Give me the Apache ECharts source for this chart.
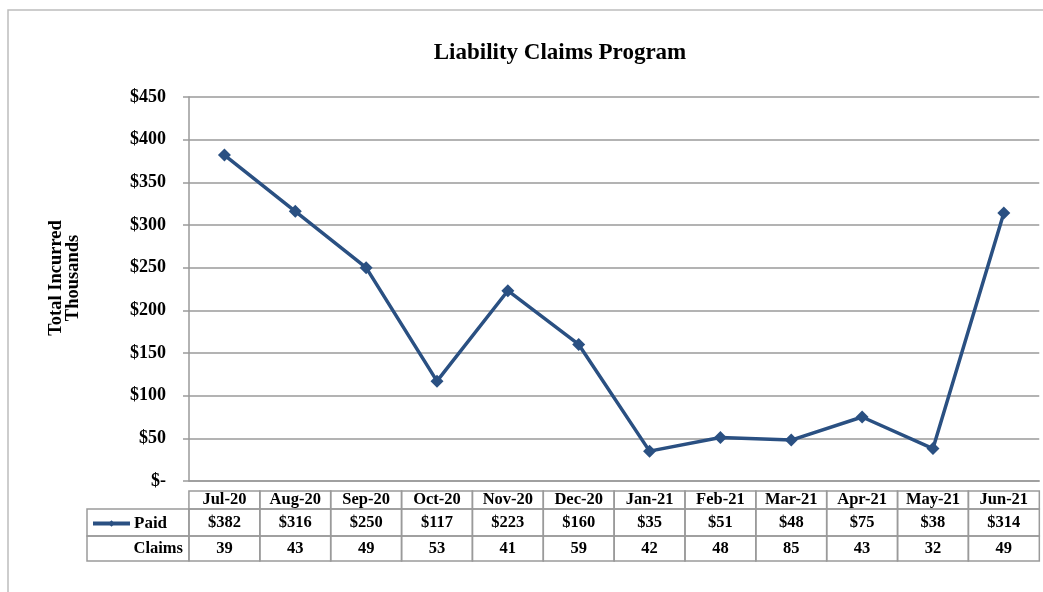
<!DOCTYPE html>
<html>
<head>
<meta charset="utf-8">
<script src="https://cdn.jsdelivr.net/npm/echarts@6/dist/echarts.min.js"></script>
<style>
  html, body { margin: 0; padding: 0; background: #fff; }
  #chart { width: 1043px; height: 592px; }
</style>
</head>
<body>
<div id="chart"></div>
<script>
// Monthly liability claims, FY Jul-20 .. Jun-21
const months = ['Jul-20', 'Aug-20', 'Sep-20', 'Oct-20', 'Nov-20', 'Dec-20',
                'Jan-21', 'Feb-21', 'Mar-21', 'Apr-21', 'May-21', 'Jun-21'];
const paid = [382, 316, 250, 117, 223, 160, 35, 51, 48, 75, 38, 314];   // $ thousands
const claims = [39, 43, 49, 53, 41, 59, 42, 48, 85, 43, 32, 49];
const yTicks = { min: 0, max: 450, step: 50 };

const SERIF = '"Liberation Serif", "Times New Roman", serif';
const LINE = '#2a5082';
const RULE = '#9a9a9a';

const W = 1043;
const gridLeft = 189, gridRight = 2, gridTop = 97, gridBottom = 111; // plot ends at y=481
const cellW = (W - gridLeft - gridRight) / months.length;
const rowH = [18, 27, 25];          // header, Paid, Claims rows of the data table
const rowTop = [491, 509, 536];

// one category axis per table row; each label is a bordered cell
function tableAxis(rowIdx, fmt) {
  return {
    type: 'category',
    data: months,
    gridIndex: 0,
    position: 'bottom',
    offset: rowTop[rowIdx] - 491,
    boundaryGap: true,
    axisLine: { show: false },
    axisTick: { show: false },
    splitLine: { show: false },
    axisLabel: {
      interval: 0,
      margin: 10,
      formatter: fmt,
      color: '#000',
      fontFamily: SERIF,
      fontWeight: 'bold',
      fontSize: 16.5,
      width: cellW,
      height: rowH[rowIdx],
      lineHeight: rowH[rowIdx],
      align: 'center',
      verticalAlign: 'top',
      borderColor: RULE,
      borderWidth: 1.5
    }
  };
}

const chart = echarts.init(document.getElementById('chart'), null, { renderer: 'canvas' });

const option = {
  backgroundColor: '#fff',
  animation: false,
  title: {
    text: 'Liability Claims Program',
    left: 555,
    top: 37,
    textAlign: 'center',
    textStyle: { fontFamily: SERIF, fontWeight: 'bold', fontSize: 23, color: '#000' }
  },
  legend: {
    data: ['Paid'],
    left: 91,
    top: 515,
    padding: 0,
    itemWidth: 37,
    itemHeight: 8,
    itemGap: 4,
    lineStyle: { width: 4 },
    textStyle: { fontFamily: SERIF, fontWeight: 'bold', fontSize: 17, color: '#000', padding: [0, 0, 0, -1] }
  },
  grid: { left: gridLeft, right: gridRight, top: gridTop, bottom: gridBottom, containLabel: false },
  xAxis: [
    Object.assign(tableAxis(0, v => v), {
      axisLine: { show: true, lineStyle: { color: RULE, width: 1.5 } }
    }),
    tableAxis(1, (v, i) => '$' + paid[i]),
    tableAxis(2, (v, i) => String(claims[i]))
  ],
  yAxis: {
    type: 'value',
    min: yTicks.min,
    max: yTicks.max,
    interval: yTicks.step,
    axisLine: { show: true, lineStyle: { color: RULE, width: 1.5 } },
    axisTick: { show: true, inside: false, length: 6, lineStyle: { color: RULE, width: 1.5 } },
    splitLine: { show: true, lineStyle: { color: RULE, width: 1.5 } },
    axisLabel: {
      margin: 23,
      color: '#000',
      fontFamily: SERIF,
      fontWeight: 'bold',
      fontSize: 18,
      formatter: v => (v === 0 ? '$-' : '$' + v)
    }
  },
  series: [{
    name: 'Paid',
    type: 'line',
    xAxisIndex: 0,
    data: paid,
    symbol: 'diamond',
    symbolSize: 13,
    lineStyle: { color: LINE, width: 3.5 },
    itemStyle: { color: LINE },
    z: 5
  }],
  graphic: [
    // outer chart frame
    { type: 'rect', shape: { x: 8, y: 10, width: 1100, height: 700 },
      style: { fill: 'none', stroke: '#bdbdbd', lineWidth: 1.5 }, silent: true, z: -1 },
    // row-header cells of the data table
    { type: 'rect', shape: { x: 87, y: rowTop[1], width: gridLeft - 87, height: rowH[1] },
      style: { fill: 'none', stroke: RULE, lineWidth: 1.5 }, silent: true },
    { type: 'rect', shape: { x: 87, y: rowTop[2], width: gridLeft - 87, height: rowH[2] },
      style: { fill: 'none', stroke: RULE, lineWidth: 1.5 }, silent: true },
    { type: 'text', x: 183, y: rowTop[2] + rowH[2] / 2,
      style: { text: 'Claims', fill: '#000', font: 'bold 16.5px ' + SERIF, textAlign: 'right', textVerticalAlign: 'middle' },
      silent: true },
    // y-axis title
    { type: 'text', x: 64.5, y: 278, rotation: Math.PI / 2,
      style: { text: 'Total Incurred\nThousands', fill: '#000', font: 'bold 18.5px ' + SERIF,
               textAlign: 'center', textVerticalAlign: 'middle', lineHeight: 17 },
      silent: true }
  ]
};

chart.setOption(option);
</script>
</body>
</html>
